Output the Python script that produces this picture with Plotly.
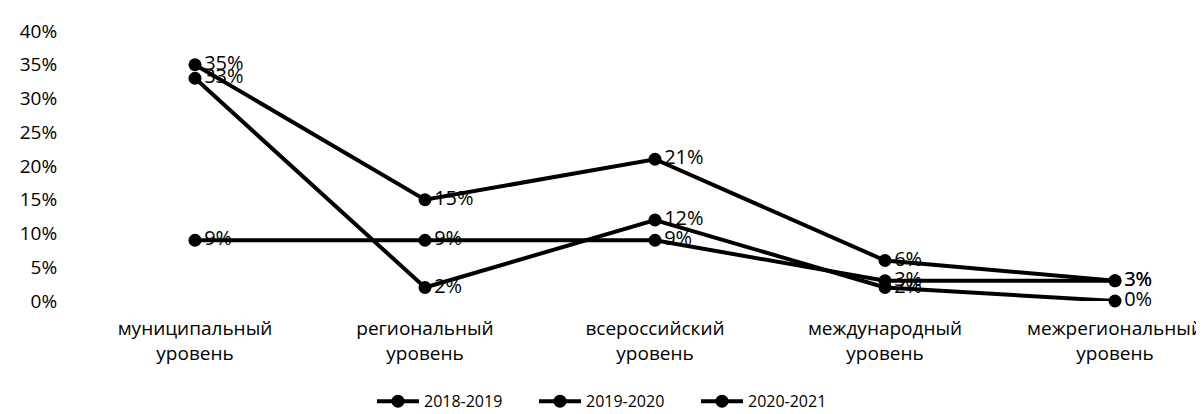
import plotly.graph_objects as go

categories = ["муниципальный<br>уровень", "региональный<br>уровень", "всероссийский<br>уровень",
              "международный<br>уровень", "межрегиональный<br>уровень"]
series_names = ["2018-2019", "2019-2020", "2020-2021"]
values_2018_2019 = [0.09, 0.09, 0.09, 0.03, 0.03]
values_2019_2020 = [0.33, 0.02, 0.12, 0.02, 0.00]
values_2020_2021 = [0.35, 0.15, 0.21, 0.06, 0.03]
y_ticks = [0, 0.05, 0.10, 0.15, 0.20, 0.25, 0.30, 0.35, 0.40]
y_tick_text = ["0%", "5%", "10%", "15%", "20%", "25%", "30%", "35%", "40%"]

FONT = "'Open Sans', Lato, sans-serif"

fig = go.Figure()
for name, vals in zip(series_names, [values_2018_2019, values_2019_2020, values_2020_2021]):
    fig.add_trace(go.Scatter(
        x=categories, y=vals, name=name,
        mode="lines+markers+text",
        line=dict(color="black", width=4),
        marker=dict(color="black", size=13),
        text=[f"{round(v*100)}%" for v in vals],
        textposition="middle right",
        textfont=dict(family=FONT, size=20, color="black"),
        cliponaxis=False,
    ))

fig.update_layout(
    width=1204, height=414,
    margin=dict(l=72, r=0, t=23, b=121),
    plot_bgcolor="white", paper_bgcolor="white",
    font=dict(family=FONT, size=18, color="black"),
    showlegend=True,
    legend=dict(orientation="h", xref="paper", yref="container",
                x=0.4726, xanchor="center", y=0.05, yanchor="middle",
                itemwidth=42, entrywidth=105, font=dict(size=16, family=FONT)),
    xaxis=dict(type="category", range=[-0.5, 4.4217], showgrid=False, showline=False,
               zeroline=False, ticks="outside", ticklen=10, tickcolor="rgba(0,0,0,0)",
               tickfont=dict(size=19, family=FONT)),
    yaxis=dict(range=[0, 0.4], tickvals=y_ticks, ticktext=y_tick_text, showgrid=False,
               showline=False, zeroline=False, ticks="outside", ticklen=18,
               tickcolor="rgba(0,0,0,0)", tickfont=dict(size=19, family=FONT)),
)

fig.write_html("out.html")
